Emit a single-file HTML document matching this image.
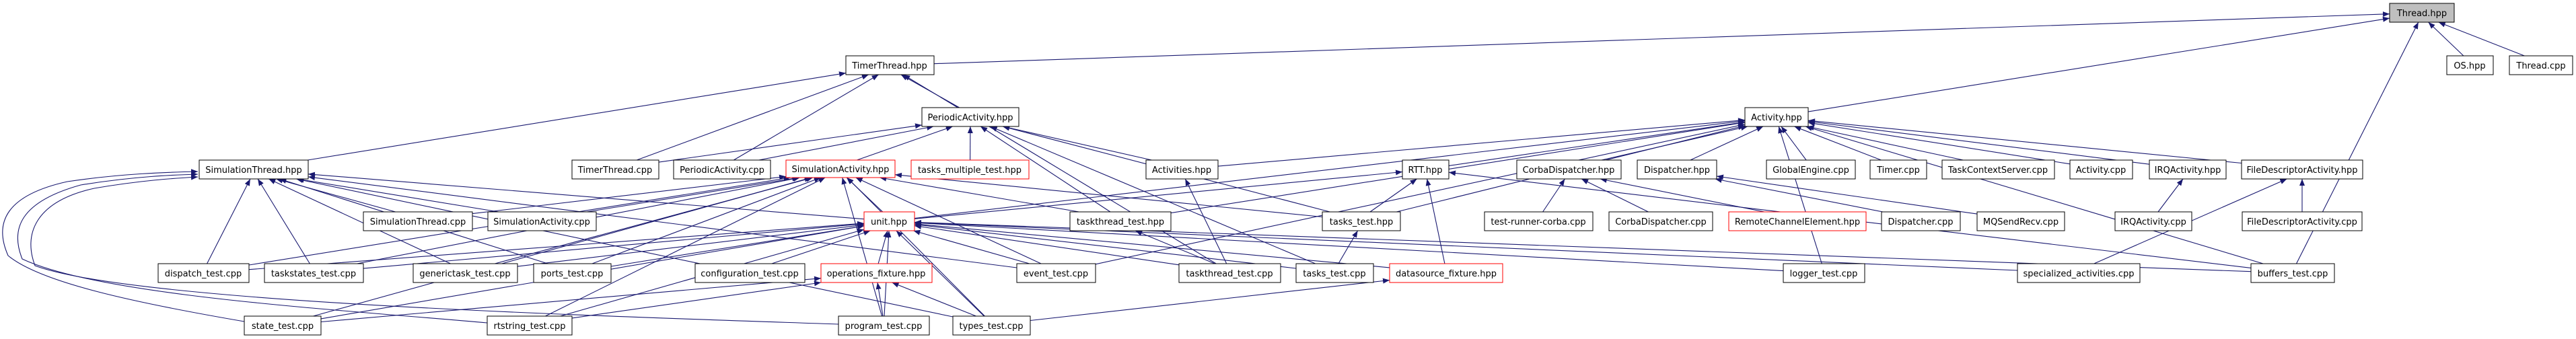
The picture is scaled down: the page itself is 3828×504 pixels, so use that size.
<!DOCTYPE html>
<html><head><meta charset="utf-8"><style>
html,body{margin:0;padding:0;background:#fff;}
svg{display:block;}
text{font-family:"DejaVu Sans","Liberation Sans",sans-serif;font-size:13px;fill:#000;}
</style></head><body>
<svg id="s" width="3828" height="504" viewBox="0 0 3828 504" xmlns="http://www.w3.org/2000/svg">
<defs><marker id="a" viewBox="0 0 10 10" refX="10" refY="5" markerWidth="10" markerHeight="10" markerUnits="userSpaceOnUse" orient="auto"><path d="M0,1 L10,5 L0,9 z" fill="#191970"/></marker></defs>
<g id="edges" fill="none" stroke="#191970" stroke-width="1.1">
<path d="M363,478 C200,450 60,420 12,380 C-10,330 10,290 100,270 C180,258 250,256 294,255" marker-end="url(#a)"/>
<path d="M724,480 C500,460 150,440 33,385 C15,340 30,300 120,275 C200,262 260,260 294,259" marker-end="url(#a)"/>
<path d="M1246,482 C900,470 200,450 52,395 C35,350 50,300 140,280 C210,268 260,265 294,263" marker-end="url(#a)"/>
</g>
<g id="nodes">
<rect x="3551" y="5" width="96" height="28" fill="#bfbfbf" stroke="#000"/><text x="3599" y="24" text-anchor="middle">Thread.hpp</text>
<rect x="1257" y="83" width="131" height="28" fill="#fff" stroke="#000"/><text x="1322" y="102" text-anchor="middle">TimerThread.hpp</text>
<rect x="3636" y="83" width="69" height="28" fill="#fff" stroke="#000"/><text x="3670" y="102" text-anchor="middle">OS.hpp</text>
<rect x="3729" y="83" width="94" height="28" fill="#fff" stroke="#000"/><text x="3776" y="102" text-anchor="middle">Thread.cpp</text>
<rect x="1370" y="160" width="144" height="28" fill="#fff" stroke="#000"/><text x="1442" y="179" text-anchor="middle">PeriodicActivity.hpp</text>
<rect x="2593" y="160" width="94" height="28" fill="#fff" stroke="#000"/><text x="2640" y="179" text-anchor="middle">Activity.hpp</text>
<rect x="296" y="238" width="162" height="28" fill="#fff" stroke="#000"/><text x="377" y="257" text-anchor="middle">SimulationThread.hpp</text>
<rect x="850" y="238" width="129" height="28" fill="#fff" stroke="#000"/><text x="914" y="257" text-anchor="middle">TimerThread.cpp</text>
<rect x="1001" y="238" width="144" height="28" fill="#fff" stroke="#000"/><text x="1073" y="257" text-anchor="middle">PeriodicActivity.cpp</text>
<rect x="1168" y="238" width="162" height="26" fill="#fff" stroke="#f00"/><text x="1249" y="256" text-anchor="middle">SimulationActivity.hpp</text>
<rect x="1354" y="238" width="175" height="28" fill="#fff" stroke="#f00"/><text x="1441" y="257" text-anchor="middle">tasks_multiple_test.hpp</text>
<rect x="1703" y="238" width="107" height="28" fill="#fff" stroke="#000"/><text x="1756" y="257" text-anchor="middle">Activities.hpp</text>
<rect x="2084" y="238" width="69" height="28" fill="#fff" stroke="#000"/><text x="2118" y="257" text-anchor="middle">RTT.hpp</text>
<rect x="2254" y="238" width="155" height="28" fill="#fff" stroke="#000"/><text x="2331" y="257" text-anchor="middle">CorbaDispatcher.hpp</text>
<rect x="2433" y="238" width="118" height="28" fill="#fff" stroke="#000"/><text x="2492" y="257" text-anchor="middle">Dispatcher.hpp</text>
<rect x="2625" y="238" width="132" height="28" fill="#fff" stroke="#000"/><text x="2691" y="257" text-anchor="middle">GlobalEngine.cpp</text>
<rect x="2779" y="238" width="84" height="28" fill="#fff" stroke="#000"/><text x="2821" y="257" text-anchor="middle">Timer.cpp</text>
<rect x="2886" y="238" width="167" height="28" fill="#fff" stroke="#000"/><text x="2969" y="257" text-anchor="middle">TaskContextServer.cpp</text>
<rect x="3076" y="238" width="93" height="28" fill="#fff" stroke="#000"/><text x="3122" y="257" text-anchor="middle">Activity.cpp</text>
<rect x="3194" y="238" width="114" height="28" fill="#fff" stroke="#000"/><text x="3251" y="257" text-anchor="middle">IRQActivity.hpp</text>
<rect x="3331" y="238" width="180" height="28" fill="#fff" stroke="#000"/><text x="3421" y="257" text-anchor="middle">FileDescriptorActivity.hpp</text>
<rect x="540" y="315" width="162" height="28" fill="#fff" stroke="#000"/><text x="621" y="334" text-anchor="middle">SimulationThread.cpp</text>
<rect x="725" y="315" width="161" height="28" fill="#fff" stroke="#000"/><text x="805" y="334" text-anchor="middle">SimulationActivity.cpp</text>
<rect x="1284" y="315" width="75" height="28" fill="#fff" stroke="#f00"/><text x="1321" y="334" text-anchor="middle">unit.hpp</text>
<rect x="1590" y="315" width="150" height="28" fill="#fff" stroke="#000"/><text x="1665" y="334" text-anchor="middle">taskthread_test.hpp</text>
<rect x="1965" y="315" width="116" height="28" fill="#fff" stroke="#000"/><text x="2023" y="334" text-anchor="middle">tasks_test.hpp</text>
<rect x="2206" y="315" width="161" height="28" fill="#fff" stroke="#000"/><text x="2286" y="334" text-anchor="middle">test-runner-corba.cpp</text>
<rect x="2391" y="315" width="154" height="28" fill="#fff" stroke="#000"/><text x="2468" y="334" text-anchor="middle">CorbaDispatcher.cpp</text>
<rect x="2569" y="315" width="204" height="28" fill="#fff" stroke="#f00"/><text x="2671" y="334" text-anchor="middle">RemoteChannelElement.hpp</text>
<rect x="2796" y="315" width="117" height="28" fill="#fff" stroke="#000"/><text x="2854" y="334" text-anchor="middle">Dispatcher.cpp</text>
<rect x="2938" y="315" width="130" height="28" fill="#fff" stroke="#000"/><text x="3003" y="334" text-anchor="middle">MQSendRecv.cpp</text>
<rect x="3143" y="315" width="114" height="28" fill="#fff" stroke="#000"/><text x="3200" y="334" text-anchor="middle">IRQActivity.cpp</text>
<rect x="3332" y="315" width="178" height="28" fill="#fff" stroke="#000"/><text x="3421" y="334" text-anchor="middle">FileDescriptorActivity.cpp</text>
<rect x="235" y="392" width="135" height="28" fill="#fff" stroke="#000"/><text x="302" y="411" text-anchor="middle">dispatch_test.cpp</text>
<rect x="393" y="392" width="147" height="28" fill="#fff" stroke="#000"/><text x="466" y="411" text-anchor="middle">taskstates_test.cpp</text>
<rect x="614" y="392" width="155" height="28" fill="#fff" stroke="#000"/><text x="691" y="411" text-anchor="middle">generictask_test.cpp</text>
<rect x="793" y="392" width="115" height="28" fill="#fff" stroke="#000"/><text x="850" y="411" text-anchor="middle">ports_test.cpp</text>
<rect x="1033" y="392" width="163" height="28" fill="#fff" stroke="#000"/><text x="1114" y="411" text-anchor="middle">configuration_test.cpp</text>
<rect x="1220" y="392" width="165" height="28" fill="#fff" stroke="#f00"/><text x="1302" y="411" text-anchor="middle">operations_fixture.hpp</text>
<rect x="1511" y="392" width="117" height="28" fill="#fff" stroke="#000"/><text x="1569" y="411" text-anchor="middle">event_test.cpp</text>
<rect x="1752" y="392" width="151" height="28" fill="#fff" stroke="#000"/><text x="1827" y="411" text-anchor="middle">taskthread_test.cpp</text>
<rect x="1926" y="392" width="115" height="28" fill="#fff" stroke="#000"/><text x="1983" y="411" text-anchor="middle">tasks_test.cpp</text>
<rect x="2065" y="392" width="168" height="28" fill="#fff" stroke="#f00"/><text x="2149" y="411" text-anchor="middle">datasource_fixture.hpp</text>
<rect x="2650" y="392" width="121" height="28" fill="#fff" stroke="#000"/><text x="2710" y="411" text-anchor="middle">logger_test.cpp</text>
<rect x="2998" y="392" width="182" height="28" fill="#fff" stroke="#000"/><text x="3089" y="411" text-anchor="middle">specialized_activities.cpp</text>
<rect x="3345" y="392" width="124" height="28" fill="#fff" stroke="#000"/><text x="3407" y="411" text-anchor="middle">buffers_test.cpp</text>
<rect x="363" y="470" width="114" height="28" fill="#fff" stroke="#000"/><text x="420" y="489" text-anchor="middle">state_test.cpp</text>
<rect x="724" y="470" width="126" height="28" fill="#fff" stroke="#000"/><text x="787" y="489" text-anchor="middle">rtstring_test.cpp</text>
<rect x="1246" y="470" width="135" height="28" fill="#fff" stroke="#000"/><text x="1313" y="489" text-anchor="middle">program_test.cpp</text>
<rect x="1416" y="470" width="115" height="28" fill="#fff" stroke="#000"/><text x="1473" y="489" text-anchor="middle">types_test.cpp</text>
</g>
</svg>
<script>
var N={};
document.querySelectorAll('#nodes rect').forEach(function(r){
 var t=r.nextElementSibling.textContent;
 N[t]={x:+r.getAttribute('x'),y:+r.getAttribute('y'),w:+r.getAttribute('width'),h:+r.getAttribute('height')};
});
var E=[
['TimerThread.hpp','Thread.hpp'],['Activity.hpp','Thread.hpp'],['OS.hpp','Thread.hpp'],['Thread.cpp','Thread.hpp'],['buffers_test.cpp','Thread.hpp'],
['SimulationThread.hpp','TimerThread.hpp'],['TimerThread.cpp','TimerThread.hpp'],['PeriodicActivity.cpp','TimerThread.hpp'],['PeriodicActivity.hpp','TimerThread.hpp'],['taskthread_test.cpp','TimerThread.hpp'],
['TimerThread.cpp','PeriodicActivity.hpp'],['PeriodicActivity.cpp','PeriodicActivity.hpp'],['SimulationActivity.hpp','PeriodicActivity.hpp'],['tasks_multiple_test.hpp','PeriodicActivity.hpp'],['Activities.hpp','PeriodicActivity.hpp'],['taskthread_test.hpp','PeriodicActivity.hpp'],['tasks_test.cpp','PeriodicActivity.hpp'],['tasks_test.hpp','PeriodicActivity.hpp'],
['Activities.hpp','Activity.hpp'],['taskthread_test.hpp','Activity.hpp'],['event_test.cpp','Activity.hpp'],['tasks_test.hpp','Activity.hpp'],['RTT.hpp','Activity.hpp'],['CorbaDispatcher.hpp','Activity.hpp'],['Dispatcher.hpp','Activity.hpp'],['GlobalEngine.cpp','Activity.hpp'],['Timer.cpp','Activity.hpp'],['TaskContextServer.cpp','Activity.hpp'],['Activity.cpp','Activity.hpp'],['IRQActivity.hpp','Activity.hpp'],['FileDescriptorActivity.hpp','Activity.hpp'],['buffers_test.cpp','Activity.hpp'],['logger_test.cpp','Activity.hpp'],['unit.hpp','Activity.hpp'],
['SimulationThread.cpp','SimulationThread.hpp'],['SimulationActivity.cpp','SimulationThread.hpp'],['dispatch_test.cpp','SimulationThread.hpp'],['taskstates_test.cpp','SimulationThread.hpp'],['generictask_test.cpp','SimulationThread.hpp'],['ports_test.cpp','SimulationThread.hpp'],['types_test.cpp','SimulationThread.hpp'],['event_test.cpp','SimulationThread.hpp'],['unit.hpp','SimulationThread.hpp'],
['SimulationThread.cpp','SimulationActivity.hpp'],['SimulationActivity.cpp','SimulationActivity.hpp'],['taskstates_test.cpp','SimulationActivity.hpp'],['generictask_test.cpp','SimulationActivity.hpp'],['ports_test.cpp','SimulationActivity.hpp'],['dispatch_test.cpp','SimulationActivity.hpp'],['unit.hpp','SimulationActivity.hpp'],['event_test.cpp','SimulationActivity.hpp'],['taskthread_test.hpp','SimulationActivity.hpp'],['tasks_test.hpp','SimulationActivity.hpp'],['types_test.cpp','SimulationActivity.hpp'],['program_test.cpp','SimulationActivity.hpp'],['state_test.cpp','SimulationActivity.hpp'],['rtstring_test.cpp','SimulationActivity.hpp'],
['dispatch_test.cpp','unit.hpp'],['taskstates_test.cpp','unit.hpp'],['generictask_test.cpp','unit.hpp'],['ports_test.cpp','unit.hpp'],['configuration_test.cpp','unit.hpp'],['operations_fixture.hpp','unit.hpp'],['state_test.cpp','unit.hpp'],['rtstring_test.cpp','unit.hpp'],['program_test.cpp','unit.hpp'],['types_test.cpp','unit.hpp'],['event_test.cpp','unit.hpp'],['taskthread_test.cpp','unit.hpp'],['tasks_test.cpp','unit.hpp'],['datasource_fixture.hpp','unit.hpp'],['logger_test.cpp','unit.hpp'],['specialized_activities.cpp','unit.hpp'],['buffers_test.cpp','unit.hpp'],
['unit.hpp','RTT.hpp'],['tasks_test.hpp','RTT.hpp'],['datasource_fixture.hpp','RTT.hpp'],['buffers_test.cpp','RTT.hpp'],
['state_test.cpp','operations_fixture.hpp'],['rtstring_test.cpp','operations_fixture.hpp'],['program_test.cpp','operations_fixture.hpp'],['types_test.cpp','operations_fixture.hpp'],
['types_test.cpp','datasource_fixture.hpp'],['taskthread_test.cpp','taskthread_test.hpp'],['tasks_test.cpp','tasks_test.hpp'],['taskthread_test.cpp','Activities.hpp'],
['test-runner-corba.cpp','CorbaDispatcher.hpp'],['CorbaDispatcher.cpp','CorbaDispatcher.hpp'],['RemoteChannelElement.hpp','CorbaDispatcher.hpp'],
['Dispatcher.cpp','Dispatcher.hpp'],['MQSendRecv.cpp','Dispatcher.hpp'],
['IRQActivity.cpp','IRQActivity.hpp'],['FileDescriptorActivity.cpp','FileDescriptorActivity.hpp'],['specialized_activities.cpp','FileDescriptorActivity.hpp']
];
var g=document.getElementById('edges');
function clip(b,px,py){
 var cx=b.x+b.w/2,cy=b.y+b.h/2,dx=px-cx,dy=py-cy;
 var tx=dx?Math.abs((b.w/2)/dx):1e9,ty=dy?Math.abs((b.h/2)/dy):1e9,t=Math.min(tx,ty);
 return [cx+dx*t,cy+dy*t];
}
E.forEach(function(e){
 var s=N[e[0]],t=N[e[1]]; if(!s||!t)return;
 var scx=s.x+s.w/2,scy=s.y+s.h/2,tcx=t.x+t.w/2,tcy=t.y+t.h/2;
 var ax=tcx+Math.max(-t.w/2+8,Math.min(t.w/2-8,(scx-tcx)*0.25));
 var bx=scx+Math.max(-s.w/2+8,Math.min(s.w/2-8,(tcx-scx)*0.25));
 var p1=clip(s,ax,tcy),p2=clip(t,bx,scy);
 var p=document.createElementNS('http://www.w3.org/2000/svg','path');
 p.setAttribute('d','M'+p1[0].toFixed(1)+','+p1[1].toFixed(1)+' L'+p2[0].toFixed(1)+','+p2[1].toFixed(1));
 p.setAttribute('marker-end','url(#a)');g.appendChild(p);
});
</script>
</body></html>
